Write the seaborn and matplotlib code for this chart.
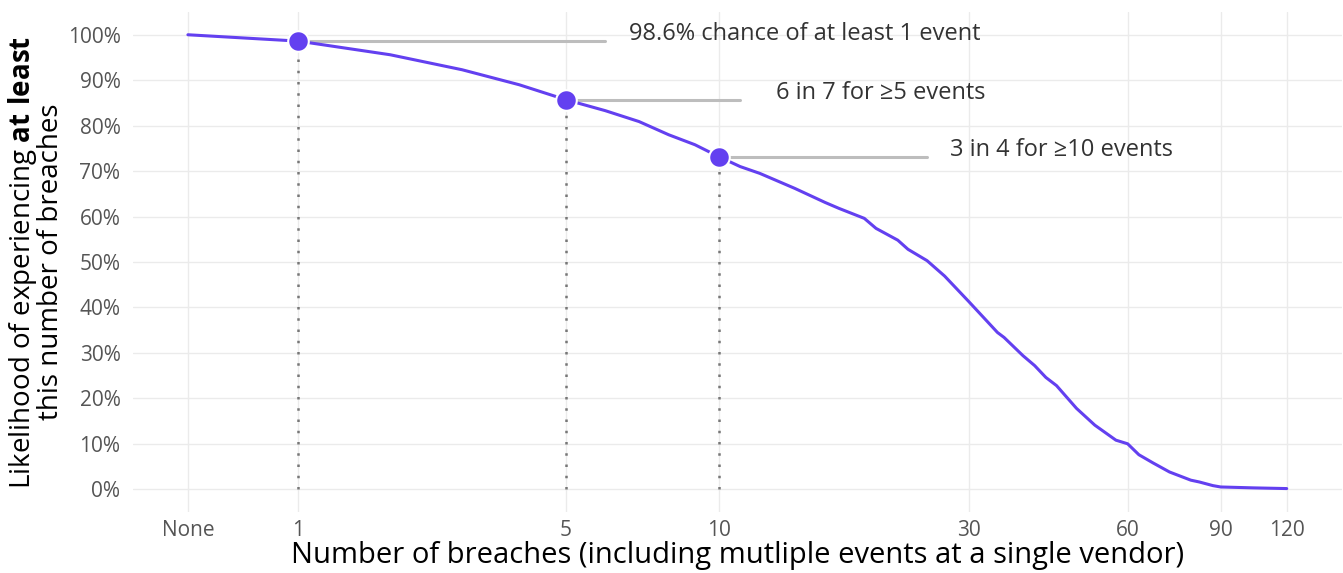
import numpy as np
import pandas as pd
import matplotlib
matplotlib.use('Agg')
import matplotlib.pyplot as plt
import seaborn as sns

# breaches (0 = None) and chance of having at least that many (%)
n_breaches = [0, 1, 2, 3, 4, 5, 6, 7, 8, 9, 10, 11, 12, 14, 16, 17, 19, 20, 22, 23, 25, 27,
              30, 34, 35, 38, 40, 42, 44, 48, 52, 57, 60, 63, 67, 72, 79, 82, 87, 90, 104, 120]
pct_at_least = [100, 98.6, 95.6, 92.3, 89.0, 85.7, 83.3, 80.9, 78.0, 75.8, 73.2, 71.0, 69.5,
                66.2, 63.1, 61.8, 59.6, 57.4, 54.8, 52.8, 50.3, 46.9, 41.3, 34.5, 33.4, 29.4,
                27.2, 24.6, 22.8, 17.8, 14.1, 10.8, 10.0, 7.6, 5.8, 3.8, 2.0, 1.6, 0.8, 0.5,
                0.3, 0.15]

# highlighted points + callouts
hl_n = [1, 5, 10]
hl_pct = [98.6, 85.7, 73.2]
hl_line_end = [6, 11, 25]
hl_text_x = [6.7, 12.9, 27.6]
hl_text = ['98.6% chance of at least 1 event', '6 in 7 for \u22655 events', '3 in 4 for \u226510 events']

x_ticks = [0, 1, 5, 10, 30, 60, 90, 120]
x_ticklabels = ['None', '1', '5', '10', '30', '60', '90', '120']
y_ticks = list(range(0, 101, 10))

df = pd.DataFrame({'n': n_breaches, 'pct': pct_at_least})
hl = pd.DataFrame({'n': hl_n, 'pct': hl_pct})

sns.set_theme(style='whitegrid')
plt.rcParams['font.family'] = ['Open Sans', 'DejaVu Sans']
plt.rcParams['mathtext.fontset'] = 'custom'
plt.rcParams['mathtext.rm'] = 'Open Sans'
plt.rcParams['mathtext.bf'] = 'Open Sans:bold'

purple = '#6340F0'

fig, ax = plt.subplots(figsize=(13.43, 5.73), dpi=100)
fig.subplots_adjust(left=0.099, right=0.999, top=0.979, bottom=0.1065)

ax.set_xscale('function', functions=(lambda v: np.arcsinh(np.asarray(v) / 2),
                                     lambda v: 2 * np.sinh(np.asarray(v))))

# dotted drops to the axis
for xn, yp in zip(hl_n, hl_pct):
    ax.plot([xn, xn], [0, yp], color='#777777', linestyle=(0, (1, 3.5)), linewidth=1.8, zorder=2)

# callout lines and text
for xn, yp, xe, xt, txt in zip(hl_n, hl_pct, hl_line_end, hl_text_x, hl_text):
    ax.plot([xn, xe], [yp, yp], color='#bdbdbd', linewidth=2.2, zorder=2)
    ax.text(xt, yp + 1.5, txt, fontsize=17, color='#333333', va='center', ha='left')

sns.lineplot(data=df, x='n', y='pct', color=purple, linewidth=2.2, ax=ax, zorder=3)
sns.scatterplot(data=hl, x='n', y='pct', color=purple, s=220, edgecolor='white',
                linewidth=1.5, ax=ax, zorder=4)

ax.set_xlim(2 * np.sinh(-0.2394), 2 * np.sinh(5.027))
ax.set_ylim(-5, 105)
ax.set_xticks(x_ticks)
ax.set_xticklabels(x_ticklabels)
ax.set_yticks(y_ticks)
ax.set_yticklabels([f'{v}%' for v in y_ticks])
ax.minorticks_off()

ax.tick_params(axis='both', labelsize=15, labelcolor='#555555', length=0)
ax.tick_params(axis='x', pad=6)
ax.tick_params(axis='y', pad=9)
ax.grid(True, color='#ebebeb', linewidth=1)
for s in ax.spines.values():
    s.set_visible(False)

ax.set_xlabel('Number of breaches (including mutliple events at a single vendor)',
              fontsize=21, color='black', labelpad=0)
ax.set_ylabel('Likelihood of experiencing $\\bf{at\\ least}$\nthis number of breaches',
              fontsize=20, color='black', labelpad=2, linespacing=0.9)

plt.savefig('out.png', dpi=100)
